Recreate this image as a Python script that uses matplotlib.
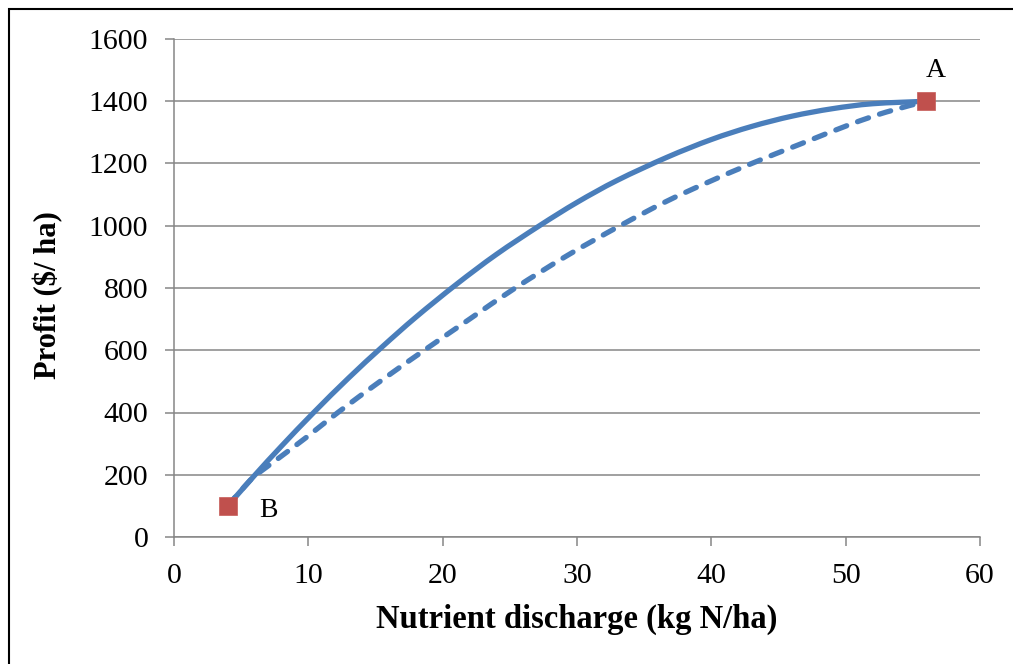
import matplotlib
matplotlib.use("Agg")
import matplotlib.pyplot as plt
from matplotlib.patches import Rectangle, PathPatch
from matplotlib.path import Path

# ---- data ----
solid_x = [4, 6, 8, 10.4, 13, 15.5, 18, 21, 24, 27.2, 30, 33, 36.7, 40, 43, 46, 49, 52, 56]
solid_y = [100, 198, 292, 400, 511, 611, 706, 811, 908, 1000, 1075, 1146, 1220, 1277, 1319, 1352, 1376, 1392, 1400]

dashed_x = [4, 5, 6, 8, 10, 12.2, 15.5, 18.8, 22, 25.4, 29.3, 33.2, 36.5, 39.5, 43, 46.6, 50.3, 53, 56]
dashed_y = [100, 150, 195, 260, 325, 400, 505, 605, 700, 800, 905, 1000, 1075, 1135, 1200, 1262, 1325, 1365, 1400]

point_labels = ["A", "B"]
point_x = [56, 4]
point_y = [1400, 100]

x_ticks = [0, 10, 20, 30, 40, 50, 60]
y_ticks = [0, 200, 400, 600, 800, 1000, 1200, 1400, 1600]

x_label = "Nutrient discharge (kg N/ha)"
y_label = "Profit ($/ ha)"

# ---- styling ----
plt.rcParams['font.family'] = ['Liberation Serif', 'DejaVu Serif']
blue = "#4A7EBB"
red = "#C0504D"
grey = "#868686"


def smooth_path(xs, ys):
    """Smoothed line through the points (Catmull-Rom drawn as cubic Bezier
    segments), like a spreadsheet's 'smoothed line' rendering."""
    pts = list(zip(xs, ys))
    verts = [pts[0]]
    codes = [Path.MOVETO]
    n = len(pts)
    for i in range(n - 1):
        p0 = pts[i - 1] if i > 0 else pts[i]
        p1 = pts[i]
        p2 = pts[i + 1]
        p3 = pts[i + 2] if i + 2 < n else pts[i + 1]
        c1 = (p1[0] + (p2[0] - p0[0]) / 6, p1[1] + (p2[1] - p0[1]) / 6)
        c2 = (p2[0] - (p3[0] - p1[0]) / 6, p2[1] - (p3[1] - p1[1]) / 6)
        verts += [c1, c2, p2]
        codes += [Path.CURVE4] * 3
    return Path(verts, codes)


fig = plt.figure(figsize=(10.13, 6.64), dpi=100)
ax = fig.add_axes([174/1013, 1 - 537/664, (980-174)/1013, (537-39)/664])

ax.add_patch(PathPatch(smooth_path(solid_x, solid_y), fill=False, edgecolor=blue,
                       lw=3.8, capstyle='round', zorder=3))
ax.add_patch(PathPatch(smooth_path(dashed_x, dashed_y), fill=False, edgecolor=blue,
                       lw=3.8, linestyle=(0, (2.2, 2.2)), capstyle='round', zorder=3))
ax.plot(point_x, point_y, linestyle='none', marker='s', ms=13,
        color=red, markeredgecolor="#C65A57", markeredgewidth=0.5, zorder=4, clip_on=False)

# point labels
ax.annotate(point_labels[0], (point_x[0], point_y[0]), xytext=(7, 22),
            textcoords='offset points', fontsize=20, ha='center', va='center')
ax.annotate(point_labels[1], (point_x[1], point_y[1]), xytext=(29, -3),
            textcoords='offset points', fontsize=20, ha='center', va='center')

ax.set_xlim(0, 60)
ax.set_ylim(0, 1600)
ax.set_xticks(x_ticks)
ax.set_yticks(y_ticks)
ax.tick_params(axis='both', direction='out', length=6.5, width=1.1, color=grey,
               labelsize=21.5, labelcolor='black')
ax.tick_params(axis='y', pad=12)
ax.tick_params(axis='x', pad=12)

ax.grid(axis='y', color=grey, lw=1.1)
ax.set_axisbelow(True)
for s in ['top', 'right']:
    ax.spines[s].set_visible(False)
for s in ['left', 'bottom']:
    ax.spines[s].set_color(grey)
    ax.spines[s].set_linewidth(1.1)

ax.set_xlabel(x_label, fontsize=23.5, fontweight='bold', labelpad=11)
ax.set_ylabel(y_label, fontsize=22, fontweight='bold', labelpad=25)
ax.yaxis.set_label_coords(ax.yaxis.label.get_position()[0], 0.485)
ax.yaxis.set_label_coords(-0.137, 0.485)

# outer chart frame (left and top visible)
fig.add_artist(Rectangle((8.5/1013, -0.05), 1.2, 1.05 - 8.5/664,
                         transform=fig.transFigure, fill=False,
                         edgecolor='black', lw=1.5))

fig.savefig("out.png", dpi=100)
